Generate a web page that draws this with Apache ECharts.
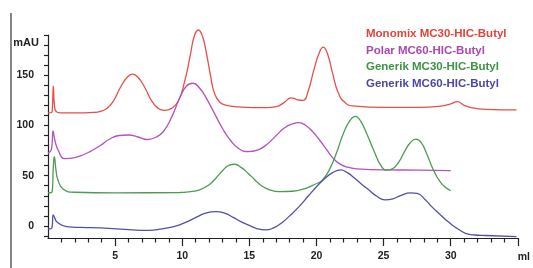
<!DOCTYPE html>
<html>
<head>
<meta charset="utf-8">
<script src="https://cdn.jsdelivr.net/npm/echarts@6.0.0/dist/echarts.min.js"></script>
<style>
  html, body { margin: 0; padding: 0; background: #fff; }
  #chart { width: 533px; height: 268px; }
</style>
</head>
<body>
<div id="chart"></div>
<script>
// column names, in legend order
let names = ['Monomix MC30-HIC-Butyl', 'Polar MC60-HIC-Butyl', 'Generik MC30-HIC-Butyl', 'Generik MC60-HIC-Butyl'];

// traces: [ml, mAU]
let monomixMC30 = [
  [0, 112.5], [0.28, 113], [0.33, 118], [0.4, 139], [0.48, 120], [0.6, 114], [0.9, 112.5], [2, 112.5],
  [3.4, 113], [3.9, 114], [4.4, 117], [4.9, 125], [5.4, 138], [5.9, 148], [6.3, 151], [6.7, 148],
  [7.2, 138], [7.7, 125], [8.2, 117], [8.7, 115], [9.2, 117], [9.7, 124], [10.2, 145], [10.6, 170],
  [10.9, 189], [11.2, 195], [11.5, 189], [11.8, 172], [12.1, 150], [12.4, 132], [12.8, 123],
  [13.3, 120], [14.2, 118.5], [15.2, 117.7], [16.2, 117.8], [17.0, 118.7], [17.6, 123], [18.1, 127.5],
  [18.6, 125.5], [19.0, 125], [19.4, 135], [19.8, 155], [20.2, 172], [20.5, 178], [20.8, 172],
  [21.2, 152], [21.6, 133], [22.1, 123], [22.7, 119.5], [25.1, 118], [27.6, 118], [29.4, 119.5],
  [30.0, 121.5], [30.5, 123.7], [31.0, 120], [31.6, 117.5], [32.6, 116], [34.9, 115.4]
];
let polarMC60 = [
  [0, 72.5], [0.25, 76], [0.38, 94.5], [0.5, 86], [0.75, 75.6], [1.26, 67], [2, 68], [2.6, 70.6],
  [3.2, 74.5], [3.9, 80], [4.6, 86.5], [5.3, 90], [6.0, 90.5], [6.7, 88.5], [7.4, 86], [8.0, 88],
  [8.6, 94], [9.2, 108], [9.8, 127], [10.3, 139], [10.8, 142], [11.3, 137], [11.8, 127], [12.4, 112],
  [13.0, 97], [13.6, 85], [14.2, 77], [14.9, 74], [15.6, 75.5], [16.3, 81], [17.0, 90], [17.6, 97.5],
  [18.2, 101.5], [18.7, 102.8], [19.2, 100], [19.7, 94], [20.2, 86], [20.7, 77], [21.2, 68],
  [21.7, 62], [22.3, 58.5], [23.0, 56.8], [25.1, 55.7], [27.6, 55.6], [30.0, 55]
];
let generikMC30 = [
  [0, 33], [0.3, 34], [0.4, 60], [0.47, 69], [0.6, 55], [0.74, 45.8], [1.14, 36.5], [2, 33.5],
  [5, 33], [9.8, 33.3], [10.5, 34], [11.3, 36], [12.0, 41], [12.5, 47.5], [13.0, 55], [13.5, 60.5],
  [13.9, 61.4], [14.4, 58], [14.9, 52.5], [15.4, 46], [15.9, 40], [16.5, 36], [17.2, 34.1],
  [18.2, 34.5], [19.2, 37.5], [19.9, 41.5], [20.45, 45.8], [21.0, 57], [21.5, 73], [22.0, 92],
  [22.5, 105], [22.9, 109], [23.3, 104], [23.8, 90], [24.3, 74], [24.8, 60], [25.2, 55.5],
  [25.6, 56.5], [26.1, 63], [26.6, 75], [27.0, 83], [27.4, 86.3], [27.8, 83], [28.2, 72],
  [28.7, 56], [29.2, 44], [29.6, 38.5], [30.0, 35]
];
let generikMC60 = [
  [0, -3], [0.28, -2], [0.39, 11], [0.5, 8], [0.67, 4], [1.4, -0.7], [2.5, -1.5], [3.9, -2],
  [6.3, -4], [7.5, -4.5], [8.5, -3], [9.3, -1], [9.8, 1], [10.5, 5], [11.1, 9], [11.8, 13],
  [12.5, 14.2], [13.2, 12.5], [13.8, 8.5], [14.4, 4], [15.0, 0.5], [15.6, -2.8], [16.2, -4],
  [16.8, -2], [17.4, 3], [18.0, 10], [18.7, 19.2], [19.4, 30], [20.0, 39], [20.6, 47], [21.2, 53],
  [21.8, 55.7], [22.3, 53], [22.8, 48], [23.4, 41], [23.9, 35.8], [24.5, 29.5], [25.1, 26],
  [25.7, 27], [26.3, 30.5], [27.0, 33], [27.5, 32.5], [28.1, 26], [28.6, 19], [29.1, 12.6],
  [29.6, 6.5], [30.1, 1], [30.6, -3.5], [31.1, -7.3], [31.8, -9], [32.6, -9.5], [34.9, -10.6]
];

// axis ticks and labels
let xMinorTicks = [1, 2, 3, 4, 6, 7, 8, 9, 11, 12, 13, 14, 16, 17, 18, 19, 21, 22, 23, 24, 26, 27, 28, 29, 31, 32, 33, 34];
let xMajorTicks = [5, 10, 15, 20, 25, 30, 35];
let xLabels = [5, 10, 15, 20, 25, 30];
let yTicks = [-10, 0, 10, 20, 30, 40, 50, 60, 70, 80, 90, 100, 110, 120, 130, 140, 150, 160, 170, 180, 190];
let yLabels = [0, 50, 100, 150];

let lineColors = ['#e5504a', '#b552bd', '#4c9c52', '#5250aa'];
let textColors = ['#e2443b', '#a948b3', '#3e9344', '#4a47a6'];

let chart = echarts.init(document.getElementById('chart'), null, { renderer: 'canvas' });
let ink = '#222';
let font = 'Liberation Sans, Arial, sans-serif';

let allData = [monomixMC30, polarMC60, generikMC30, generikMC60];
let series = allData.map(function (d, i) {
  return {
    name: names[i],
    type: 'line',
    data: d,
    smooth: 0.5,
    symbol: 'none',
    clip: false,
    lineStyle: { color: lineColors[i], width: 1.3 },
    itemStyle: { color: lineColors[i] }
  };
});

chart.setOption({
  animation: false,
  backgroundColor: '#fff',
  grid: { left: 48, right: 14, top: 35, bottom: 30 },
  legend: {
    orient: 'vertical',
    left: 356,
    top: 23,
    itemWidth: 0,
    itemHeight: 12,
    itemGap: 4.5,
    selectedMode: false,
    textStyle: { fontFamily: font, fontSize: 11.5, fontWeight: 'bold', lineHeight: 12 },
    data: names.map(function (n, i) {
      return { name: n, icon: 'rect', itemStyle: { opacity: 0 }, textStyle: { color: textColors[i] } };
    })
  },
  xAxis: [
    {
      type: 'value', min: 0, max: 35, position: 'bottom',
      name: 'ml', nameLocation: 'end', nameGap: 6,
      nameTextStyle: { color: ink, fontFamily: font, fontSize: 10.5, fontWeight: 'bold', align: 'center', verticalAlign: 'top', padding: [14, 0, 0, 0] },
      splitLine: { show: false },
      axisLine: { onZero: false, lineStyle: { color: ink, width: 1.2 } },
      axisTick: { customValues: xMinorTicks, length: 4.5, lineStyle: { color: ink, width: 1.2 } },
      axisLabel: { customValues: xLabels, margin: 13, color: ink, fontFamily: font, fontSize: 10.5, fontWeight: 'bold' }
    },
    {
      type: 'value', min: 0, max: 35, position: 'bottom',
      splitLine: { show: false },
      axisLine: { show: false, onZero: false },
      axisTick: { customValues: xMajorTicks, length: 8, lineStyle: { color: ink, width: 1.2 } },
      axisLabel: { show: false }
    }
  ],
  yAxis: {
    type: 'value', min: -12, max: 190,
    name: 'mAU', nameLocation: 'end', nameGap: -8,
    nameTextStyle: { color: ink, fontFamily: font, fontSize: 11, fontWeight: 'bold', align: 'right', verticalAlign: 'middle', padding: [0, 9, 0, 0] },
    splitLine: { show: false },
    axisLine: { show: true, onZero: false, lineStyle: { color: ink, width: 1.2 } },
    axisTick: { show: true, customValues: yTicks, length: 4, lineStyle: { color: ink, width: 1.2 } },
    axisLabel: { customValues: yLabels, margin: 14, color: ink, fontFamily: font, fontSize: 10.5, fontWeight: 'bold' }
  },
  graphic: [
    { type: 'line', shape: { x1: 11, y1: 13, x2: 11, y2: 268 }, style: { stroke: '#333', lineWidth: 1.2 } }
  ],
  series: series
});
</script>
</body>
</html>
